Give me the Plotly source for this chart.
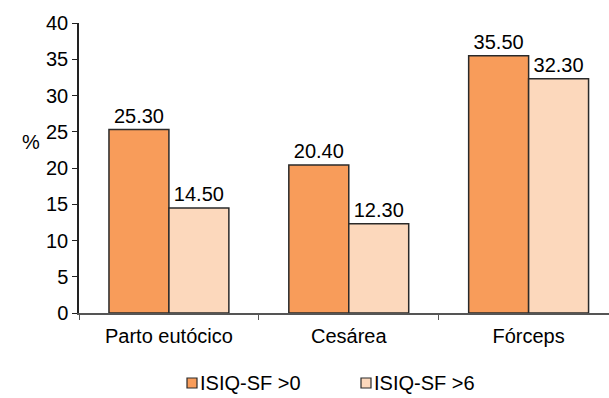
import plotly.graph_objects as go

categories = ["Parto eutócico", "Cesárea", "Fórceps"]
isiq_gt0 = [25.30, 20.40, 35.50]
isiq_gt6 = [14.50, 12.30, 32.30]
series_names = ["ISIQ-SF >0", "ISIQ-SF >6"]
series_colors = ["#F89C5A", "#FCD8BC"]
y_ticks = [0, 5, 10, 15, 20, 25, 30, 35, 40]

FONT = "Liberation Sans, Arial, sans-serif"
FS = 20
EDGE = "#2a2a2a"

W, H = 609, 398
L, R, T, B = 79, 0, 23, 85
PW, PH = W - L - R, H - T - B


def px_x(p):
    return (p - L) / PW


def px_y(p):
    return (H - B - p) / PH


fig = go.Figure()
for name, vals, color in zip(series_names, [isiq_gt0, isiq_gt6], series_colors):
    fig.add_trace(go.Bar(
        x=categories, y=vals, name=name,
        marker=dict(color=color, line=dict(color=EDGE, width=1.5)),
        text=[f"{v:.2f}" for v in vals], textposition="outside",
        textfont=dict(family=FONT, size=FS, color="black"),
        cliponaxis=False,
    ))

fig.update_layout(
    width=W, height=H,
    margin=dict(l=L, r=R, t=T, b=B, autoexpand=False),
    plot_bgcolor="white", paper_bgcolor="white",
    barmode="group", bargap=1/3, bargroupgap=0,
    font=dict(family=FONT, size=FS, color="black"),
    showlegend=False,
)
fig.update_xaxes(
    range=[-0.5, 2.447], showline=True, linecolor="#555", linewidth=1.5,
    ticks="outside", tickson="boundaries", ticklen=5, tickcolor="#555",
    tickfont=dict(family=FONT, size=FS), ticklabelstandoff=4,
)
fig.update_yaxes(
    range=[0, 40], tickvals=y_ticks, showline=True, linecolor="#222", linewidth=1.5,
    ticks="outside", ticklen=5, tickcolor="#222", showgrid=False, zeroline=False,
    tickfont=dict(family=FONT, size=FS),
)
fig.add_annotation(text="%", xref="paper", yref="paper", x=px_x(20), y=px_y(142),
                   showarrow=False, font=dict(family=FONT, size=FS))

# legend: small bordered swatch followed directly by the series name
for name, color, sx in zip(series_names, series_colors, [187, 361]):
    fig.add_shape(type="rect", xref="paper", yref="paper",
                  x0=px_x(sx), x1=px_x(sx + 10), y0=px_y(388), y1=px_y(378),
                  fillcolor=color, line=dict(color=EDGE, width=1.2))
    fig.add_annotation(text=name, xref="paper", yref="paper",
                       x=px_x(sx + 11), y=px_y(383), xanchor="left", yanchor="middle",
                       showarrow=False, font=dict(family=FONT, size=FS))

fig.write_html("out.html")
